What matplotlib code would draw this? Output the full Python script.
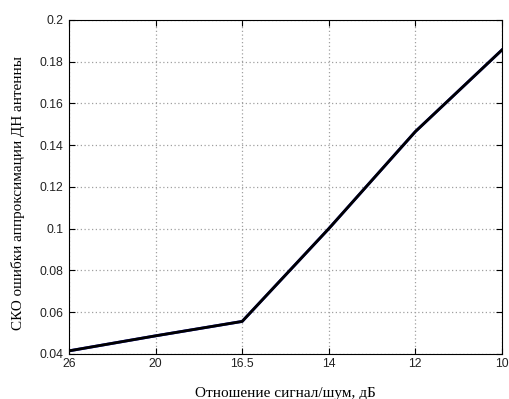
import matplotlib
matplotlib.use('Agg')
from matplotlib import pyplot as plt

# signal/noise ratio (dB), shown as evenly spaced categories
snr_labels = ['26', '20', '16.5', '14', '12', '10']
rmse = [0.0415, 0.0487, 0.0556, 0.1000, 0.1465, 0.1856]

y_ticks = [0.04, 0.06, 0.08, 0.1, 0.12, 0.14, 0.16, 0.18, 0.2]
y_tick_labels = ['0.04', '0.06', '0.08', '0.1', '0.12', '0.14', '0.16', '0.18', '0.2']

fig = plt.figure(figsize=(5.09, 3.99), dpi=100)
ax = fig.add_axes([0.1356, 0.1128, 0.8504, 0.8372])

x = list(range(len(snr_labels)))
ax.plot(x, rmse, color='#2020c0', linewidth=2.1)
ax.plot(x, rmse, color='black', linewidth=2.0)

ax.set_xlim(0, len(snr_labels) - 1)
ax.set_ylim(0.04, 0.2)
ax.set_xticks(x)
ax.set_xticklabels(snr_labels)
ax.set_yticks(y_ticks)
ax.set_yticklabels(y_tick_labels)

ax.grid(True, color='#a0a0a0', linestyle=(0, (1, 2)), linewidth=0.9)
ax.tick_params(direction='in', length=4, top=True, right=True,
               labelsize=8.8)
ax.tick_params(axis='y', pad=4)
ax.tick_params(axis='x', pad=3)
for lbl in ax.get_xticklabels() + ax.get_yticklabels():
    lbl.set_family('Liberation Sans')
    lbl.set_color('#222222')
for sp in ax.spines.values():
    sp.set_linewidth(0.8)

ax.set_xlabel('Отношение сигнал/шум, дБ', family='Liberation Serif',
              fontsize=11, labelpad=12)
ax.set_ylabel('СКО ошибки аппроксимации ДН антенны', family='Liberation Serif',
              fontsize=10.9)
ax.yaxis.set_label_coords(-0.102, 0.482)

fig.savefig('out.png', dpi=100)
